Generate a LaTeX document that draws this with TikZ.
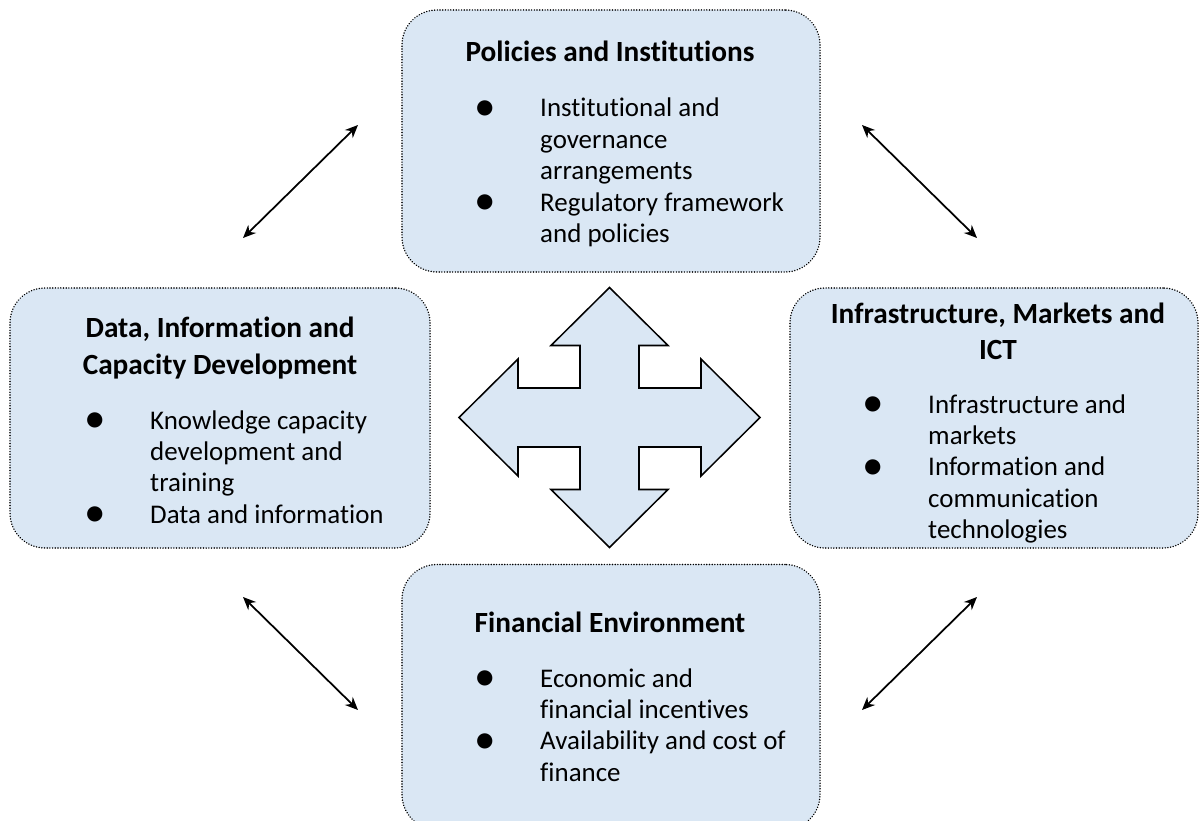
\documentclass[tikz,border=0pt]{standalone}
\usepackage{fontspec}
\setmainfont[Ligatures=NoCommon]{Carlito}
\usetikzlibrary{arrows.meta}
\definecolor{azulclaro}{RGB}{218,231,244}
\tikzstyle{caja} = [rectangle, rounded corners=1.05cm, draw=black, dash pattern=on 0.1pt off 2.2pt, line width=1.3pt, line cap=round, fill=azulclaro]
\tikzstyle{titulo} = [inner sep=0pt, anchor=base, font=\fontsize{25}{31.5}\selectfont\bfseries]
\tikzstyle{lista} = [inner sep=0pt, anchor=base west, font=\fontsize{23}{26.8}\selectfont]
\tikzstyle{flecha} = [line width=1.5pt, {Stealth[length=11pt,width=9.5pt]}-{Stealth[length=11pt,width=9.5pt]}]
\tikzstyle{cruz} = [fill=azulclaro, draw=black, line width=1.3pt]
\newcommand{\punto}{\raisebox{-0.13em}{\scalebox{1.6}{\textbullet}}}
\newcommand{\lista}[1]{\begin{tabular}[t]{@{}p{1.98cm}@{}l@{}}#1\end{tabular}}
\newcommand{\dos}[1]{\begin{tabular}[t]{@{}c@{}}#1\end{tabular}}

\begin{document}
\begin{tikzpicture}[x=0.03cm, y=-0.03cm]
    \useasboundingbox (0,0) rectangle (1199,821);
    % cajas
    \node (pol) [caja, minimum width=12.54cm, minimum height=7.86cm] at (611,141) {};
    \node (dat) [caja, minimum width=12.6cm, minimum height=7.8cm] at (220,418) {};
    \node (inf) [caja, minimum width=12.24cm, minimum height=7.8cm] at (994,418) {};
    \node (fin) [caja, minimum width=12.54cm, minimum height=7.95cm] at (611,697) {};

    % textos
    \node (tpol) [titulo] at (610,62) {Policies and Institutions};
    \node (lpol) [lista] at (474,117) {\lista{\punto & Institutional and\\ & governance\\ & arrangements\\ \punto & Regulatory framework\\ & and policies}};
    \node (tdat) [titulo] at (220,338) {\dos{Data, Information and\\Capacity Development}};
    \node (ldat) [lista] at (84,429) {\lista{\punto & Knowledge capacity\\ & development and\\ & training\\ \punto & Data and information}};
    \node (tinf) [titulo] at (998,323) {\dos{Infrastructure, Markets and\\ICT}};
    \node (linf) [lista] at (862,413) {\lista{\punto & Infrastructure and\\ & markets\\ \punto & Information and\\ & communication\\ & technologies}};
    \node (tfin) [titulo] at (610,632) {Financial Environment};
    \node (lfin) [lista] at (474,687) {\lista{\punto & Economic and\\ & financial incentives\\ \punto & Availability and cost of\\ & finance}};

    % flecha central
    \coordinate (centro) at (609.5,417.5);
    \draw [cruz, shift={(centro)}] (0,-130) -- (58.5,-72) -- (29.5,-72) -- (29.5,-29.5) -- (91.5,-29.5) -- (91.5,-58.5) -- (150.5,0) -- (91.5,58.5) -- (91.5,29.5) -- (29.5,29.5) -- (29.5,72) -- (58.5,72) -- (0,130) -- (-58.5,72) -- (-29.5,72) -- (-29.5,29.5) -- (-91.5,29.5) -- (-91.5,58.5) -- (-150.5,0) -- (-91.5,-58.5) -- (-91.5,-29.5) -- (-29.5,-29.5) -- (-29.5,-72) -- (-58.5,-72) -- cycle;

    % flechas dobles
    \coordinate (a1) at (243,238);
    \coordinate (a2) at (358,125);
    \coordinate (b1) at (862,125);
    \coordinate (b2) at (977,238);
    \coordinate (c1) at (243,597);
    \coordinate (c2) at (358,710);
    \coordinate (d1) at (862,710);
    \coordinate (d2) at (977,597);
    \draw [flecha] (a1) -- (a2);
    \draw [flecha] (b1) -- (b2);
    \draw [flecha] (c1) -- (c2);
    \draw [flecha] (d1) -- (d2);
\end{tikzpicture}
\end{document}
